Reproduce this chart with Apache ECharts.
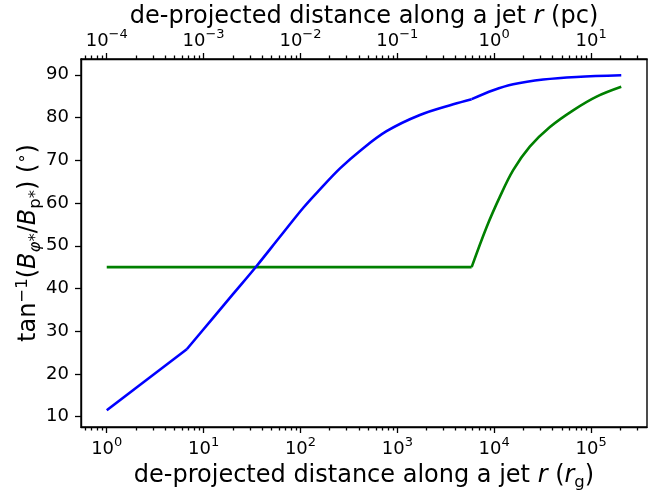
<!DOCTYPE html>
<html>
<head>
<meta charset="utf-8">
<script src="https://cdn.jsdelivr.net/npm/echarts@6/dist/echarts.min.js"></script>
<style>html,body{margin:0;padding:0;background:#fff;}#c{width:664px;height:496px;}</style>
</head>
<body>
<div id="c"></div>
<script>
// distance along the jet (r_g) and field angle (degrees)
const blueR = [1, 6.70, 12.6, 20.3, 34.8, 61.4, 107, 159, 256, 411, 774, 1710, 3780, 5850, 9770, 15700, 32100, 70800, 205000];
const blueAngle = [11.5, 25.8, 33.2, 38.8, 45.1, 52.1, 58.9, 63.2, 68.1, 72.2, 76.8, 80.6, 83.1, 84.3, 86.4, 87.8, 88.9, 89.5, 89.9];
const blueKinks = [6.70, 5850];
const greenR = [1, 5850, 8360, 11460, 15700, 23300, 37600, 65300, 114000, 205000];
const greenAngle = [45, 45, 54.4, 61.5, 67.7, 73.2, 77.8, 81.7, 84.9, 87.2];
const greenKinks = [5850];

// axis ticks
const bottomTicks = [1, 10, 100, 1000, 10000, 100000];
const topTicks = [1e-4, 1e-3, 1e-2, 1e-1, 1, 10];
const yTicks = [10, 20, 30, 40, 50, 60, 70, 80, 90];
const rgToPc = 1e-4;
const xMin = 0.5423, xMax = 378000;
const yMin = 7.6, yMax = 93.7;

function minorTicks(lo, hi) {
  const out = [];
  for (let e = Math.floor(Math.log10(lo)); e <= Math.ceil(Math.log10(hi)); e++) {
    for (let m = 2; m <= 9; m++) {
      const v = parseFloat((m * Math.pow(10, e)).toPrecision(6));
      if (v >= lo && v <= hi) out.push(v);
    }
  }
  return out;
}

// split a curve into pieces at its kinks (each piece shares the kink point)
function pieces(xs, ys, kinks) {
  const out = [];
  let cur = [];
  for (let i = 0; i < xs.length; i++) {
    cur.push([xs[i], ys[i]]);
    if (kinks.indexOf(xs[i]) >= 0 && i > 0 && i < xs.length - 1) {
      out.push(cur);
      cur = [[xs[i], ys[i]]];
    }
  }
  out.push(cur);
  return out;
}

const FONT = 'DejaVu Sans';
function powLabel(v) {
  const e = Math.round(Math.log10(v));
  return '{b|10}{s|' + (e < 0 ? '\u2212' + (-e) : e) + '}';
}
const labelRich = {
  b: {fontFamily: FONT, fontSize: 18, color: '#000', lineHeight: 22, verticalAlign: 'bottom'},
  s: {fontFamily: FONT, fontSize: 13, color: '#000', lineHeight: 11, verticalAlign: 'top'}
};
const nameRich = {
  n: {fontFamily: FONT, fontSize: 24, color: '#000', lineHeight: 30},
  i: {fontFamily: FONT, fontSize: 24, fontStyle: 'italic', color: '#000', lineHeight: 30},
  sub: {fontFamily: FONT, fontSize: 16.5, color: '#000', lineHeight: 15, verticalAlign: 'bottom'},
  subi: {fontFamily: FONT, fontSize: 16.5, fontStyle: 'italic', color: '#000', lineHeight: 15, verticalAlign: 'bottom'},
  sup: {fontFamily: FONT, fontSize: 16.5, color: '#000', lineHeight: 13, verticalAlign: 'top'}
};

const grid = {left: 81, right: 17, top: 59, bottom: 69, containLabel: false, outerBoundsMode: 'none',
  show: true, borderColor: '#000', borderWidth: 1.4, backgroundColor: 'transparent'};
const tickStyle = {color: '#000', width: 1.3};

const series = [];
pieces(greenR, greenAngle, greenKinks).forEach(p => series.push({
  type: 'line', xAxisIndex: 0, yAxisIndex: 0, showSymbol: false, symbol: 'none',
  smooth: p.length > 2 ? 0.35 : false,
  data: p, lineStyle: {color: '#008000', width: 2.6}, itemStyle: {color: '#008000'}, z: 2
}));
pieces(blueR, blueAngle, blueKinks).forEach(p => series.push({
  type: 'line', xAxisIndex: 0, yAxisIndex: 0, showSymbol: false, symbol: 'none',
  smooth: p.length > 2 ? 0.35 : false,
  data: p, lineStyle: {color: '#0000ff', width: 2.6}, itemStyle: {color: '#0000ff'}, z: 3
}));

const chart = echarts.init(document.getElementById('c'), null, {renderer: 'canvas'});
chart.setOption({
  animation: false,
  backgroundColor: '#fff',
  grid: grid,
  xAxis: [
    {
      type: 'log', logBase: 10, min: xMin, max: xMax, position: 'bottom',
      name: '{n|de-projected distance along a jet }{i|r}{n| (}{i|r}{sub|g}{n|)}',
      nameLocation: 'middle', nameGap: 34, nameMoveOverlap: false,
      nameTextStyle: {rich: nameRich},
      axisLine: {show: true, lineStyle: {color: '#000', width: 1.4}},
      axisTick: {show: true, inside: false, length: 6, lineStyle: tickStyle, customValues: bottomTicks},
      axisLabel: {show: true, margin: 9, customValues: bottomTicks, formatter: powLabel, rich: labelRich},
      splitLine: {show: false}, minorTick: {show: false}
    },
    {
      type: 'log', logBase: 10, min: xMin, max: xMax, position: 'bottom',
      axisLine: {show: false},
      axisTick: {show: true, inside: false, length: 3.5, lineStyle: tickStyle, customValues: minorTicks(xMin, xMax)},
      axisLabel: {show: false},
      splitLine: {show: false}
    },
    {
      type: 'log', logBase: 10, min: xMin * rgToPc, max: xMax * rgToPc, position: 'top',
      name: '{n|de-projected distance along a jet }{i|r}{n| (pc)}',
      nameLocation: 'middle', nameGap: 27, nameMoveOverlap: false,
      nameTextStyle: {rich: nameRich},
      axisLine: {show: true, lineStyle: {color: '#000', width: 1.4}},
      axisTick: {show: true, inside: false, length: 6, lineStyle: tickStyle, customValues: topTicks},
      axisLabel: {show: true, margin: 9, customValues: topTicks, formatter: powLabel, rich: labelRich},
      splitLine: {show: false}
    },
    {
      type: 'log', logBase: 10, min: xMin * rgToPc, max: xMax * rgToPc, position: 'top',
      axisLine: {show: false},
      axisTick: {show: true, inside: false, length: 3.5, lineStyle: tickStyle, customValues: minorTicks(xMin * rgToPc, xMax * rgToPc)},
      axisLabel: {show: false},
      splitLine: {show: false}
    }
  ],
  yAxis: {
    type: 'value', min: yMin, max: yMax,
    name: '{n|tan}{sup|\u22121}{n|(}{i|B}{subi|\u03c6}{sub|*}{n|/}{i|B}{sub|p*}{n|) (}{sup|\u2218}{n|)}',
    nameLocation: 'middle', nameRotate: 90, nameGap: 37, nameMoveOverlap: false,
    nameTextStyle: {rich: nameRich},
    axisLine: {show: true, lineStyle: {color: '#000', width: 1.4}},
    axisTick: {show: true, inside: false, length: 6, lineStyle: tickStyle, customValues: yTicks},
    axisLabel: {show: true, margin: 12, customValues: yTicks, fontFamily: FONT, fontSize: 18, color: '#000'},
    splitLine: {show: false}
  },
  series: series
});
</script>
</body>
</html>
